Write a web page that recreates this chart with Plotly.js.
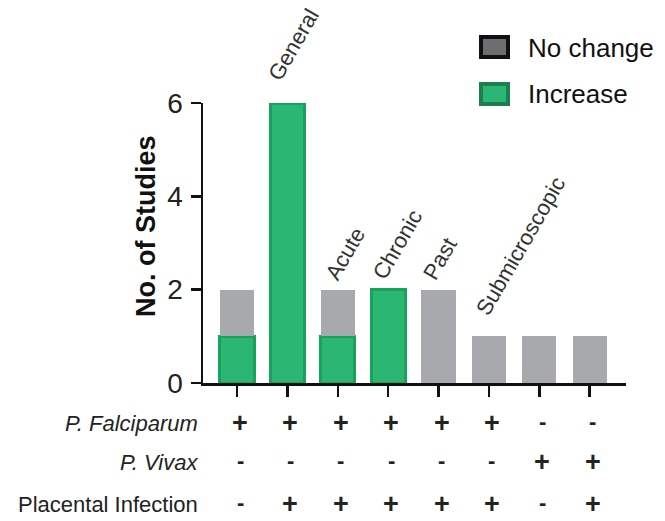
<!DOCTYPE html>
<html>
<head>
<meta charset="utf-8">
<script src="https://cdn.plot.ly/plotly-3.0.1.min.js"></script>
<style>html,body{margin:0;padding:0;background:#fff;}#chart{width:665px;height:521px;}</style>
</head>
<body>
<div id="chart"></div>
<script>
// ---- data ----
const categories = ['G1','G2','G3','G4','G5','G6','G7','G8'];
const groupLabels = ['', 'General', 'Acute', 'Chronic', 'Past', 'Submicroscopic', '', ''];
const increase = [1, 6, 1, 2, 0, 0, 0, 0];
const noChange = [1, 0, 1, 0, 2, 1, 1, 1];
const rowNames = ['P. Falciparum', 'P. Vivax', 'Placental Infection'];
const falciparum = ['+','+','+','+','+','+','-','-'];
const vivax = ['-','-','-','-','-','-','+','+'];
const placental = ['-','+','+','+','+','+','-','+'];
const yTicks = [0, 2, 4, 6];

// ---- styling / layout helpers ----
const M = {l: 203, r: 39, t: 103, b: 138};
const W = 665, H = 521;
const PW = W - M.l - M.r, PH = H - M.t - M.b;
const px = x => (x - M.l) / PW;
const py = y => (H - M.b - y) / PH;
const GREEN = '#2BB673', GREEN_LINE = '#17A35E', GRAY = '#A7A9AC';
const FONT = 'Liberation Sans, Arial, Helvetica, sans-serif';
const labelShift = [[0,0],[-27,16],[-20,3],[-23,3],[-23,3],[-21,14],[0,0],[0,0]];

const traces = [
  {type:'bar', name:'Increase', x:categories, y:increase,
   marker:{color:GREEN, line:{color:GREEN_LINE, width:3}}, hoverinfo:'skip'},
  {type:'bar', name:'No change', x:categories, y:noChange,
   marker:{color:GRAY, line:{width:0}}, hoverinfo:'skip'}
];

const annotations = [];
// rotated group labels above bars
categories.forEach((c, i) => {
  if (!groupLabels[i]) return;
  annotations.push({x:c, y:increase[i] + noChange[i], xref:'x', yref:'y',
    text:groupLabels[i], showarrow:false, textangle:-60,
    xanchor:'left', yanchor:'bottom', xshift:labelShift[i][0], yshift:labelShift[i][1],
    font:{family:FONT, size:22, color:'#333'}});
});
// table of +/- below
const rows = [falciparum, vivax, placental];
const rowY = [-40, -79, -121];
rows.forEach((row, r) => {
  annotations.push({x:0, y:0, xref:'paper', yref:'paper', xanchor:'right', yanchor:'middle',
    xshift:-4, yshift:rowY[r], showarrow:false, borderpad:0,
    text: r < 2 ? '<i>' + rowNames[r] + '</i>' : rowNames[r],
    font:{family:FONT, size:22, color:'#222'}});
  row.forEach((s, i) => {
    annotations.push({x:categories[i], y:0, xref:'x', yref:'paper', xanchor:'center', yanchor:'middle',
      xshift:3, yshift:rowY[r] + (s === '-' ? 2 : 0), showarrow:false, text:'<b>' + s + '</b>', borderpad:0,
      font:{family:FONT, size:s === '+' ? 27 : 22, color:'#222'}});
  });
});
// y axis title
annotations.push({x:0, y:py(226), xref:'paper', yref:'paper', xshift:146 - M.l,
  xanchor:'center', yanchor:'middle', textangle:-90, showarrow:false,
  text:'<b>No. of Studies</b>', font:{family:FONT, size:27, color:'#111'}});
// legend
const legendItems = [
  {name:'No change', fill:'#6D6E71', line:'#111', y0:35, y1:59, ty:48},
  {name:'Increase', fill:GREEN, line:'#1B7F4F', y0:82, y1:106, ty:94}
];
const shapes = [];
legendItems.forEach(it => {
  shapes.push({type:'rect', xref:'paper', yref:'paper', x0:px(481), x1:px(508), y0:py(it.y1-2), y1:py(it.y0+2),
    fillcolor:it.fill, line:{color:it.line, width:4}});
  annotations.push({x:px(526), y:py(it.ty), xref:'paper', yref:'paper', xanchor:'left', yanchor:'middle',
    showarrow:false, text:it.name, font:{family:FONT, size:26, color:'#111'}});
});

const layout = {
  width:W, height:H, margin:M, paper_bgcolor:'#fff', plot_bgcolor:'#fff',
  barmode:'stack', bargap:0.32, showlegend:false,
  font:{family:FONT},
  xaxis:{type:'category', range:[-0.675, 7.72], showticklabels:false, ticks:'outside', ticklen:11, tickwidth:2.5,
    tickcolor:'#111', showline:true, linecolor:'#111', linewidth:2.5, showgrid:false, zeroline:false, fixedrange:true},
  yaxis:{range:[0, 6], tickvals:yTicks, ticks:'outside', ticklen:10, tickwidth:2.5, tickcolor:'#111',
    showline:true, linecolor:'#111', linewidth:2.5, showgrid:false, zeroline:false,
    tickfont:{family:FONT, size:28, color:'#222'}, ticklabelstandoff:2},
  annotations:annotations, shapes:shapes
};
Plotly.newPlot('chart', traces, layout, {staticPlot:true});
</script>
</body>
</html>
